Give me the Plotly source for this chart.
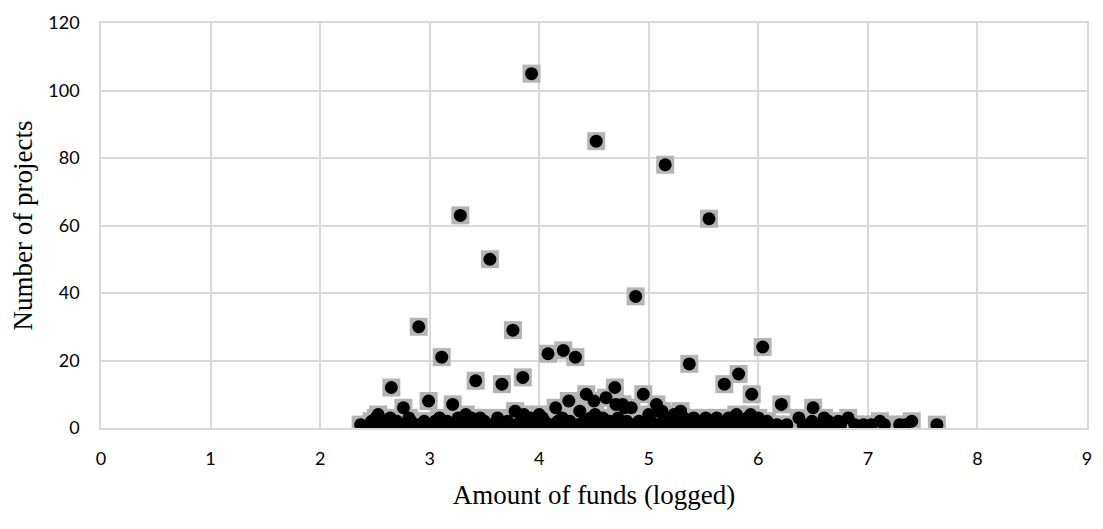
import plotly.graph_objects as go

# ---- data (log funds, number of projects) ----
notable_x = [3.93, 4.52, 5.15, 3.28, 5.55, 3.55, 4.88, 2.90, 3.76, 6.04, 4.22, 4.08, 3.11, 4.33,
             5.37, 5.82, 3.85, 3.42, 3.66, 5.69, 2.65, 4.69, 4.43, 4.95, 5.94, 4.61, 2.99, 4.27,
             4.50, 3.21, 4.76, 5.07, 6.21, 2.76, 4.15, 4.84, 6.50, 4.37, 5.09, 5.29, 3.78, 5.12,
             5.26, 4.70, 4.78]
notable_y = [105, 85, 78, 63, 62, 50, 39, 30, 29, 24, 23, 22, 21, 21,
             19, 16, 15, 14, 13, 13, 12, 12, 10, 10, 10, 9, 8, 8,
             8, 7, 7, 7, 7, 6, 6, 6, 6, 5, 5, 5, 5, 5,
             4, 7, 6]

ones_x = [2.37, 2.45, 2.52, 2.58, 2.66, 2.72, 2.79, 2.85, 2.91, 2.97, 3.03, 3.08, 3.14, 3.19,
          3.25, 3.31, 3.36, 3.41, 3.47, 3.52, 3.58, 3.63, 3.69, 3.74, 3.80, 3.86, 3.91, 3.96,
          4.02, 4.07, 4.12, 4.18, 4.23, 4.29, 4.34, 4.40, 4.45, 4.51, 4.56, 4.62, 4.67, 4.73,
          4.78, 4.83, 4.89, 4.94, 5.00, 5.05, 5.11, 5.16, 5.22, 5.27, 5.33, 5.38, 5.44, 5.49,
          5.55, 5.60, 5.66, 5.71, 5.77, 5.83, 5.88, 5.94, 5.99, 6.05, 6.11, 6.17, 6.26, 6.41,
          6.47, 6.53, 6.60, 6.68, 6.75, 6.88, 6.96, 7.03, 7.15, 7.29, 7.34, 7.63]
ones_y = [1] * len(ones_x)

twos_x = [2.47, 2.60, 2.70, 2.83, 2.95, 3.05, 3.16, 3.29, 3.39, 3.50, 3.61, 3.71, 3.83, 3.94,
          4.05, 4.17, 4.28, 4.41, 4.54, 4.64, 4.80, 4.91, 5.02, 5.13, 5.24, 5.35, 5.47, 5.58,
          5.64, 5.75, 5.86, 5.97, 6.08, 6.49, 6.64, 6.73, 7.11, 7.40]
twos_y = [2] * len(twos_x)

threes_x = [2.51, 2.64, 2.81, 3.09, 3.26, 3.38, 3.46, 3.62, 3.92, 4.03, 4.21, 4.47, 4.58, 4.72,
            5.19, 5.32, 5.41, 5.52, 5.62, 5.73, 5.90, 6.00, 6.37, 6.60, 6.82]
threes_y = [3] * len(threes_x)

fours_x = [2.53, 3.33, 3.86, 4.00, 4.51, 5.00, 5.23, 5.80, 5.93]
fours_y = [4] * len(fours_x)

x_vals = notable_x + ones_x + twos_x + threes_x + fours_x
y_vals = notable_y + ones_y + twos_y + threes_y + fours_y

x_ticks = [0, 1, 2, 3, 4, 5, 6, 7, 8, 9]
y_ticks = [0, 20, 40, 60, 80, 100, 120]

fig = go.Figure()
fig.add_trace(go.Scatter(x=x_vals, y=y_vals, mode="markers",
                         marker=dict(symbol="square", size=18, color="#b4b4b4", line=dict(width=0)),
                         hoverinfo="skip", showlegend=False))
fig.add_trace(go.Scatter(x=x_vals, y=y_vals, mode="markers",
                         marker=dict(symbol="circle", size=13, color="#000000", line=dict(width=0)),
                         showlegend=False))

tick_font = dict(family="Lato, Carlito, sans-serif", size=18, color="#000000")
title_font = dict(family="Liberation Serif, Times New Roman, serif", size=27, color="#000000")

fig.update_layout(
    width=1103, height=529,
    margin=dict(l=101, r=11, t=18, b=101),
    paper_bgcolor="white", plot_bgcolor="white",
    xaxis=dict(range=[0, 9], tickvals=x_ticks, ticktext=[str(v) for v in x_ticks],
               showgrid=True, gridcolor="#d9d9d9", gridwidth=1.5,
               showline=True, linecolor="#d9d9d9", linewidth=1.5, mirror=True,
               zeroline=False, tickfont=tick_font, ticks="", ticklabelstandoff=14,
               title=dict(text="Amount of funds (logged)", font=title_font, standoff=17)),
    yaxis=dict(range=[0, 120], tickvals=y_ticks, ticktext=[str(v) for v in y_ticks],
               showgrid=True, gridcolor="#d9d9d9", gridwidth=1.5,
               showline=True, linecolor="#d9d9d9", linewidth=1.5, mirror=True,
               zeroline=False, tickfont=tick_font, ticks="", ticklabelstandoff=16,
               title=dict(text="Number of projects", font=title_font, standoff=8)),
)

fig.write_html("out.html")
